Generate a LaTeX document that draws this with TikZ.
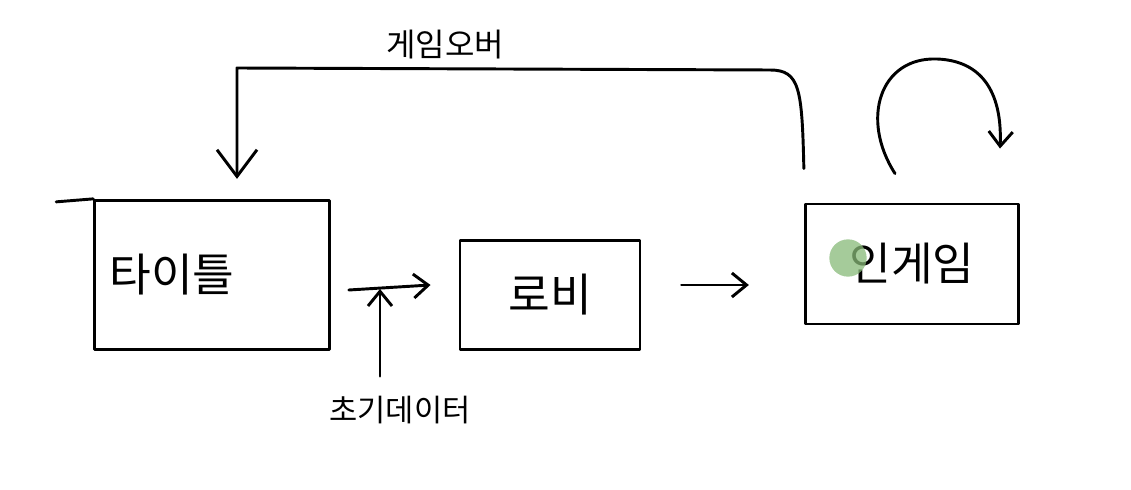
\documentclass[tikz,border=0pt]{standalone}
\usepackage{fontspec}
\newfontfamily\kr{Noto Sans CJK KR}
\usetikzlibrary{arrows.meta,positioning,calc}
\definecolor{cursorgreen}{RGB}{135,185,120}

\begin{document}
\begin{tikzpicture}[x=0.75pt, y=0.75pt, line width=2.2pt, line cap=round, line join=round,
    state/.style={rectangle, draw, font=\kr\fontsize{34}{40}\selectfont},
    arr/.style={-{Straight Barb[length=11pt,width=18pt]}},
    bigarr/.style={-{Straight Barb[length=20pt,width=30pt]}},
    edgetext/.style={font=\kr\fontsize{24}{28}\selectfont}
]
\useasboundingbox (0,0) rectangle (1131,489);

% States
\node[state, minimum width=176pt, minimum height=112pt, inner xsep=11pt, text width=154pt, align=left] (title) at (212,214) {타이틀};
\node[state, minimum width=135pt, minimum height=82pt] (lobby) at (550,194) {로비};
\node[state, minimum width=160pt, minimum height=90pt] (ingame) at (912,225) {인게임};

% Cursor highlight
\node[circle, fill=cursorgreen, opacity=0.75, minimum size=28pt, inner sep=0pt] (cursor) at (848,231) {};

% Labels
\node[edgetext] (gameover) at (445,444) {게임오버};
\node[edgetext, font=\kr\fontsize{23}{26}\selectfont] (initdata) at (400,79) {초기데이터};

% Transitions
\draw (title.north west) -- ++(-37,-3);
\draw[arr] ($(title.east)+(18,-15)$) -- ($(lobby.west)+(-28,10)$);
\coordinate (join) at (380,200);
\draw[arr] ($(initdata.north -| join)+(0,14)$) -- (join);
\draw[arr] ($(lobby.east)+(40,10)$) -- ($(ingame.west)+(-55,-21)$);

% Game over
\draw[bigarr] ($(ingame.north west)+(0,34)$) .. controls (802,400) and (800,419) .. (770,419)
    -- (237,421) -- ($(title.north)+(25,20)$);

% Self loop
\draw[arr] ($(ingame.north)+(-17,29)$) .. controls (860,370) and (880,432) .. (937,430)
    .. controls (990,428) and (1002,385) .. ($(ingame.north)+(88,54)$);

\end{tikzpicture}
\end{document}
